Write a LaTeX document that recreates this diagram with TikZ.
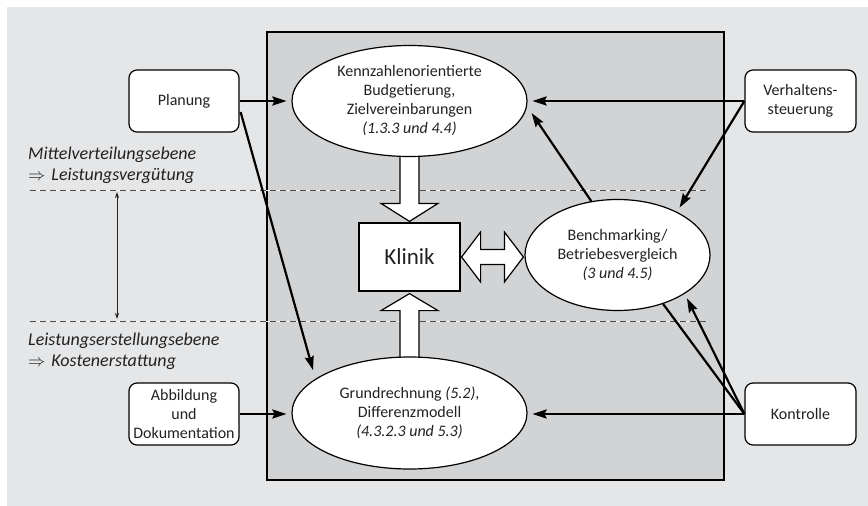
\documentclass[tikz,border=0pt]{standalone}
\usepackage{fontspec}
\setmainfont{Carlito}
\usetikzlibrary{arrows.meta,shapes.geometric,calc}
\pgfdeclarelayer{back}
\pgfdeclarelayer{mid}
\pgfsetlayers{back,mid,main}

\definecolor{pagegrey}{HTML}{E5E6E8}
\definecolor{panelgrey}{HTML}{D2D3D5}
\definecolor{dashgrey}{HTML}{4A4A4A}
\definecolor{ink}{HTML}{222222}

\begin{document}
\begin{tikzpicture}[x=1pt,y=-1pt,
  txt/.style={font=\fontsize{16}{19}\selectfont, align=center, text=ink},
  sidebox/.style={txt, draw, fill=white, line width=1.2pt, rounded corners=8pt,
    minimum width=110pt, minimum height=62pt, inner sep=0pt},
  oval/.style={txt, ellipse, draw, fill=white, line width=1.2pt, inner sep=0pt},
  flow/.style={line width=2.2pt, -{Stealth[length=14pt,width=9pt,inset=2pt]}, shorten >=5pt},
  blockarrow/.style={draw, fill=white, line width=1.2pt, line join=miter},
  level/.style={font=\fontsize{18}{21.5}\selectfont\itshape, text width=220pt, align=left,
    anchor=base west, inner sep=0pt, text=ink},
]
\useasboundingbox (0,0) rectangle (868,506);

% page background, central panel and the two level separators
\begin{pgfonlayer}{back}
  \fill[pagegrey] (7,7) rectangle (868,506);
  \filldraw[fill=panelgrey, draw=black, line width=1.2pt] (267,32) rectangle (724,480);
  \foreach \y in {190,321} {
    \draw[white, line width=1pt] (30,\y) -- (707,\y);
    \draw[dashgrey, line width=1pt, dash pattern=on 6pt off 4pt] (30,\y) -- (707,\y);
  }
\end{pgfonlayer}

% level labels
\node[level] (mittel) at (28,159) {Mittelverteilungsebene\\{\upshape$\Rightarrow$} Leistungsvergütung};
\node[level] (erstellung) at (28,345) {Leistungserstellungsebene\\{\upshape$\Rightarrow$} Kostenerstattung};

% outer boxes
\node[sidebox] (planung) at (184,101) {Planung};
\node[sidebox] (abbild) at (184,414) {Abbildung\\und\\Dokumentation};
\node[sidebox, minimum width=111pt] (verhalten) at (800.5,101) {Verhaltens-\\steuerung};
\node[sidebox, minimum width=111pt] (kontrolle) at (800.5,414) {Kontrolle};

% instruments inside the panel
\node[oval, minimum width=235pt, minimum height=111pt] (kennz) at (409.5,101)
  {Kennzahlenorientierte\\Budgetierung,\\Zielvereinbarungen\\\textit{(1.3.3 und 4.4)}};
\node[oval, minimum width=235pt, minimum height=112pt] (grund) at (409.5,413)
  {Grundrechnung \textit{(5.2)},\\Differenzmodell\\\textit{(4.3.2.3 und 5.3)}};
\node[oval, minimum width=185pt, minimum height=111pt] (bench) at (617.5,255)
  {Benchmarking/\\Betriebesvergleich\\\textit{(3 und 4.5)}};
\node[draw, fill=white, line width=1.2pt, minimum width=101pt, minimum height=68pt,
  font=\fontsize{23}{27}\selectfont, text=ink] (klinik) at (409.5,257) {Klinik};

% block arrows towards the clinic
\begin{pgfonlayer}{mid}
  \draw[blockarrow]
    ($(kennz.south)+(-9.5,-10)$) -- ($(klinik.north)+(-9.5,-19)$) -- ($(klinik.north)+(-28.5,-19)$)
    -- ($(klinik.north)+(0,-1)$) -- ($(klinik.north)+(28.5,-19)$) -- ($(klinik.north)+(9.5,-19)$)
    -- ($(kennz.south)+(9.5,-10)$) -- cycle;
  \draw[blockarrow]
    ($(grund.north)+(-9.5,10)$) -- ($(klinik.south)+(-9.5,19)$) -- ($(klinik.south)+(-28.5,19)$)
    -- ($(klinik.south)+(0,2)$) -- ($(klinik.south)+(28.5,19)$) -- ($(klinik.south)+(9.5,19)$)
    -- ($(grund.north)+(9.5,10)$) -- cycle;
  \coordinate (kE) at ($(klinik.east)+(1,0)$);
  \coordinate (bW) at ($(bench.west |- klinik.east)+(-1,0)$);
  \draw[blockarrow]
    (kE) -- ($(kE)+(19,-25)$) -- ($(kE)+(19,-7.5)$) -- ($(bW)+(-19,-7.5)$) -- ($(bW)+(-19,-25)$)
    -- (bW) -- ($(bW)+(-19,25)$) -- ($(bW)+(-19,7.5)$) -- ($(kE)+(19,7.5)$) -- ($(kE)+(19,25)$)
    -- cycle;
\end{pgfonlayer}

% connectors
\draw[flow] (planung.east) -- (planung.east -| kennz.west);
\draw[flow, shorten >=9pt] ([shift={(1,11)}]planung.east) -- (grund.160.5);
\draw[flow] (abbild.east) -- (abbild.east -| grund.west);
\draw[flow] (verhalten.west) -- (verhalten.west -| kennz.east);
\draw[flow] (verhalten.west) -- (bench.36);
\draw[flow, shorten >=0pt] (bench.116) -- ([shift={(4,12)}]kennz.east);
\draw[flow] (kontrolle.west) -- (kontrolle.west -| grund.east);
\draw[flow] (kontrolle.west) -- (bench.-30);
\draw[line width=2.2pt] (bench.-47) -- (kontrolle.west);

% span between the two levels
\coordinate (spantop) at (117,190);
\coordinate (spanbot) at (117,321);
\draw[ink, line width=1pt, {Stealth[length=6pt,width=4pt]}-{Stealth[length=6pt,width=4pt]},
  shorten <=2pt, shorten >=2pt] (spantop) -- (spanbot);
\end{tikzpicture}
\end{document}
